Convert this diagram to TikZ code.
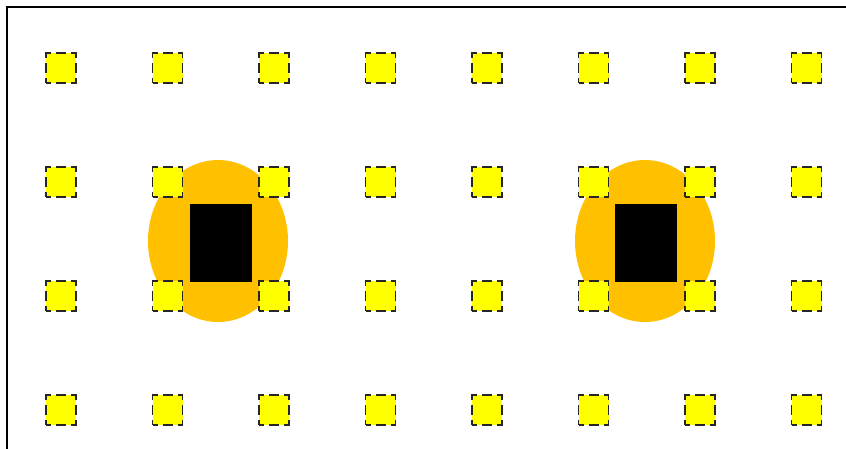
\documentclass[tikz,border=0pt]{standalone}
\usetikzlibrary{shapes.geometric}
\definecolor{padyellow}{RGB}{255,255,0}
\definecolor{haloorange}{RGB}{255,192,0}
\begin{document}
\begin{tikzpicture}[x=1pt,y=-1pt,
  pad/.style={draw=black!85,fill=padyellow,line width=1.4pt,
    dash pattern=on 10pt off 5pt,dash phase=5pt,
    minimum size=30pt,inner sep=0pt},
  halo/.style={ellipse,fill=haloorange,minimum width=140pt,
    minimum height=162pt,inner sep=0pt},
  core/.style={fill=black,minimum width=62pt,minimum height=78pt,inner sep=0pt}]
\useasboundingbox (0,0) rectangle (846,448);
\clip (0,0) rectangle (846,448);

% frame
\draw[line width=1.5pt] (7,7) rectangle (860,470);

% the two sites
\node[halo] (haloA) at (218,241) {};
\node[core] (coreA) at (221,243) {};
\node[halo] (haloB) at (645,241) {};
\node[core] (coreB) at (646,243) {};

% grid of pads
\foreach \i in {0,...,7}
  \foreach \j in {0,...,3}
    \node[pad] (pad-\i-\j) at (61+106.5*\i,68+114*\j) {};
\end{tikzpicture}
\end{document}
